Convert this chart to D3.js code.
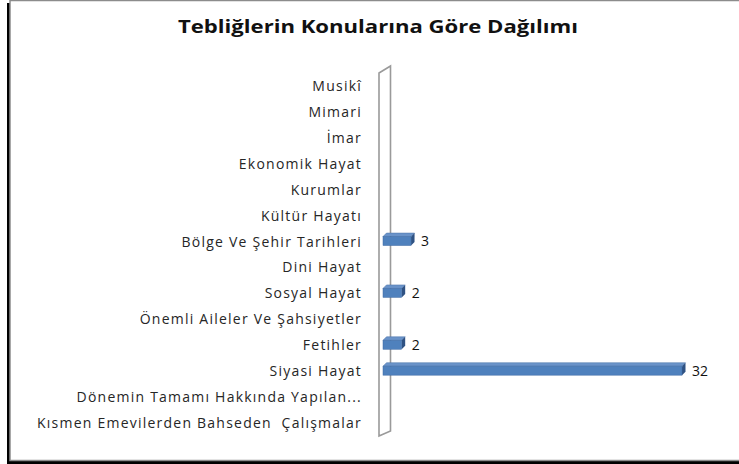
<!DOCTYPE html>
<html>
<head>
<meta charset="utf-8">
<script src="https://cdn.jsdelivr.net/npm/d3@7/dist/d3.min.js"></script>
<style>
  html, body { margin: 0; padding: 0; background: #fff; }
  svg { display: block; }
  text { font-family: "Open Sans", "DejaVu Sans", sans-serif; }
</style>
</head>
<body>
<svg id="chart" width="739" height="464"></svg>
<script>
const title = "Tebliğlerin Konularına Göre Dağılımı";
const categories = [
  "Musikî",
  "Mimari",
  "İmar",
  "Ekonomik Hayat",
  "Kurumlar",
  "Kültür Hayatı",
  "Bölge Ve Şehir Tarihleri",
  "Dini Hayat",
  "Sosyal Hayat",
  "Önemli Aileler Ve Şahsiyetler",
  "Fetihler",
  "Siyasi Hayat",
  "Dönemin Tamamı Hakkında Yapılan...",
  "Kısmen Emevilerden Bahseden  Çalışmalar"
];
const values = [0, 0, 0, 0, 0, 0, 3, 0, 2, 0, 2, 32, 0, 0];

const svg = d3.select("#chart");

// frame with shadow
svg.append("rect").attr("x", 7).attr("y", 3).attr("width", 740).attr("height", 461).attr("fill", "#000");
svg.append("rect").attr("x", 10).attr("y", 0.5).attr("width", 740).attr("height", 460)
  .attr("fill", "#fff").attr("stroke", "#8c8c8c").attr("stroke-width", 1.5);

// title
svg.append("text")
  .attr("x", 378).attr("y", 33)
  .attr("text-anchor", "middle")
  .attr("font-size", 18).attr("font-weight", "bold")
  .attr("fill", "#111")
  .attr("textLength", 400).attr("lengthAdjust", "spacingAndGlyphs")
  .text(title);

const x = d3.scaleLinear().domain([0, 32]).range([383, 682]);
const y = d3.scaleBand().domain(categories).range([73, 436]);

const dx = 3.5, dy = 3.5;

// wall (edge-on)
const wx0 = 379, wx1 = 390.5;
const yTop = y.range()[0], yBot = y.range()[1];
svg.append("path")
  .attr("d", `M${wx0},${yTop} L${wx1},${yTop - 7} L${wx1},${yBot - 5} L${wx0},${yBot} Z`)
  .attr("fill", "#fff").attr("stroke", "#9a9a9a").attr("stroke-width", 1.6);

// category labels
const labels = svg.append("g");
labels.selectAll("text").data(categories).join("text")
  .attr("x", 362)
  .attr("y", d => y(d) + y.bandwidth() / 2 + 5)
  .attr("text-anchor", "end")
  .attr("font-size", 14)
  .attr("fill", "#262626")
  .style("white-space", "pre")
  .text(d => d);

// adjust letter spacing so the longest label fits the reference width
const longest = labels.selectAll("text").filter(d => d === categories[categories.length - 1]).node();
const w = longest.getComputedTextLength();
const n = categories[categories.length - 1].length;
const ls = (325 - w) / n;
labels.selectAll("text").attr("letter-spacing", ls);

// bars (3D look)
const data = categories.map((c, i) => ({ c, v: values[i] })).filter(d => d.v > 0);
const bh = 9;
const bars = svg.append("g");
data.forEach(d => {
  const cy = y(d.c) + y.bandwidth() / 2 - 0.5;
  const x0 = x(0), x1 = x(d.v);
  const t = cy - bh / 2, b = cy + bh / 2;
  bars.append("path")
    .attr("d", `M${x0},${t} L${x0 + dx},${t - dy} L${x1 + dx},${t - dy} L${x1},${t} Z`)
    .attr("fill", "#6a93c9").attr("stroke", "#4a72a8").attr("stroke-width", 0.5);
  bars.append("path")
    .attr("d", `M${x1},${t} L${x1 + dx},${t - dy} L${x1 + dx},${b - dy} L${x1},${b} Z`)
    .attr("fill", "#2f5283");
  bars.append("rect")
    .attr("x", x0).attr("y", t).attr("width", x1 - x0).attr("height", bh)
    .attr("fill", "#4f81bd").attr("stroke", "#3e6aa3").attr("stroke-width", 0.5);
  bars.append("text")
    .attr("x", x1 + 10).attr("y", cy + 5)
    .attr("font-size", 14).attr("fill", "#111")
    .text(d.v);
});
</script>
</body>
</html>
